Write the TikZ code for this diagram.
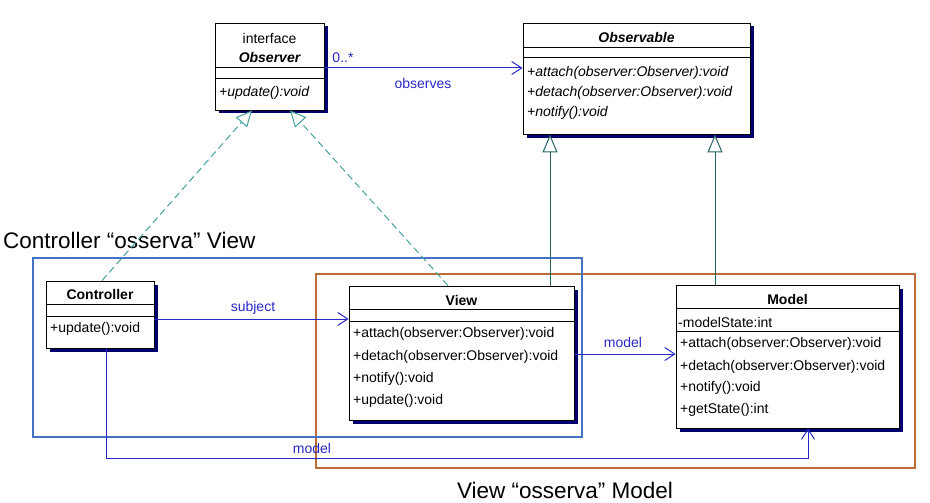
\documentclass[tikz,border=0pt]{standalone}
\usepackage{fontspec}
\setmainfont{Liberation Sans}
\usetikzlibrary{arrows.meta, shadows}

\definecolor{frameblue}{RGB}{68,114,196}
\definecolor{frameorange}{RGB}{188,108,52}
\definecolor{linkblue}{RGB}{40,40,200}
\definecolor{realteal}{RGB}{70,160,160}
\definecolor{genteal}{RGB}{40,100,100}
\definecolor{shade}{RGB}{0,0,110}

\begin{document}
\begin{tikzpicture}[
  x=1pt, y=-1pt,
  every node/.style={font=\fontsize{14}{16}\selectfont, inner sep=0pt},
  classbox/.style={draw, fill=white, line width=0.8pt,
    drop shadow={shadow xshift=3.5pt, shadow yshift=-3.5pt, fill=shade, opacity=1}},
  classname/.style={font=\fontsize{14}{16}\selectfont\bfseries},
  member/.style={anchor=west},
  frame/.style={line width=2.6pt},
  assoc/.style={draw=linkblue, line width=1pt, -{Straight Barb[length=10pt, width=13pt]}},
  linklabel/.style={text=linkblue, font=\fontsize{14}{16}\selectfont},
  realize/.style={draw=realteal, line width=1pt, dash pattern=on 7pt off 4pt,
    -{Triangle[open, length=16pt, width=15pt, fill=white]}},
  general/.style={draw=genteal, line width=1pt,
    -{Triangle[open, length=18pt, width=15pt, fill=white]}},
  caption/.style={font=\fontsize{22.5}{26}\selectfont}
]
\useasboundingbox (0,0) rectangle (930,503);

% Frames round the two observer pairs
\draw[frame, frameorange] (316,274) rectangle (915,468);
\draw[frame, frameblue] (33,258) rectangle (582,437);
\node[caption, anchor=west] (capctrl) at (3,240) {Controller “osserva” View};
\node[caption] (capview) at (565,490) {View “osserva” Model};

% Observer interface
\node[classbox, minimum width=109pt, minimum height=87pt] (observer) at (269.5,66.5) {};
\node (observerst) at (269.5,38) {interface};
\node[classname, font=\fontsize{14}{16}\selectfont\bfseries\itshape] (observername) at (269.5,57) {Observer};
\draw (observer.west |- 0,67) -- (observer.east |- 0,67);
\draw (observer.west |- 0,78) -- (observer.east |- 0,78);
\node[member, font=\fontsize{14}{16}\selectfont\itshape] (observerm1) at (219,93) {+update():void};

% Observable
\node[classbox, minimum width=227pt, minimum height=111pt] (observable) at (636.5,78.5) {};
\node[classname, font=\fontsize{14}{16}\selectfont\bfseries\itshape] (observablename) at (636.5,37) {Observable};
\draw (observable.west |- 0,47) -- (observable.east |- 0,47);
\draw (observable.west |- 0,57) -- (observable.east |- 0,57);
\node[member, font=\fontsize{14}{16}\selectfont\itshape] (observablem1) at (527,73) {+attach(observer:Observer):void};
\node[member, font=\fontsize{14}{16}\selectfont\itshape] (observablem2) at (527,93) {+detach(observer:Observer):void};
\node[member, font=\fontsize{14}{16}\selectfont\itshape] (observablem3) at (527,113) {+notify():void};

% Controller
\node[classbox, minimum width=108pt, minimum height=67pt] (ctrl) at (100,314.5) {};
\node[classname] (ctrlname) at (100,294) {Controller};
\draw (ctrl.west |- 0,304) -- (ctrl.east |- 0,304);
\draw (ctrl.west |- 0,316) -- (ctrl.east |- 0,316);
\node[member] (ctrlm1) at (50,329) {+update():void};

% View
\node[classbox, minimum width=225pt, minimum height=134pt] (view) at (461.5,353) {};
\node[classname] (viewname) at (461.5,300) {View};
\draw (view.west |- 0,309) -- (view.east |- 0,309);
\draw (view.west |- 0,321) -- (view.east |- 0,321);
\node[member] (viewm1) at (353,334) {+attach(observer:Observer):void};
\node[member] (viewm2) at (353,357) {+detach(observer:Observer):void};
\node[member] (viewm3) at (353,379) {+notify():void};
\node[member] (viewm4) at (353,401) {+update():void};

% Model
\node[classbox, minimum width=223pt, minimum height=143pt] (model) at (787.5,356.5) {};
\node[classname] (modelname) at (787.5,299) {Model};
\draw (model.west |- 0,308) -- (model.east |- 0,308);
\node[member] (modela1) at (678,322) {-modelState:int};
\draw (model.west |- 0,331) -- (model.east |- 0,331);
\node[member] (modelm1) at (680,344) {+attach(observer:Observer):void};
\node[member] (modelm2) at (680,367) {+detach(observer:Observer):void};
\node[member] (modelm3) at (680,388) {+notify():void};
\node[member] (modelm4) at (680,410) {+getState():int};

% Realizations of Observer
\draw[realize] (ctrl.north -| 102,0) -- (observer.south -| 252,0);
\draw[realize] (view.north -| 448,0) -- (observer.south -| 290,0);

% Generalizations of Observable
\draw[general] (view.north -| 550,0) -- (observable.south -| 550,0);
\draw[general] (model.north -| 715,0) -- (observable.south -| 715,0);

% Associations
\draw[assoc] (observer.east |- 0,68) -- (observable.west |- 0,68);
\node[linklabel] (mult) at (343,58) {0..*};
\node[linklabel] (observes) at (423,83) {observes};

\draw[assoc] (ctrl.east |- 0,319) -- (view.west |- 0,319);
\node[linklabel] (subject) at (253,308) {subject};

\draw[assoc] (view.east |- 0,354) -- (model.west |- 0,354);
\node[linklabel] (viewmodel) at (623,342) {model};

\coordinate (bendl) at (106,458);
\coordinate (bendr) at (808,458);
\draw[assoc] (ctrl.south -| bendl) -- (bendl) -- (bendr) -- (model.south -| bendr);
\node[linklabel] (ctrlmodel) at (312,448) {model};

\end{tikzpicture}
\end{document}
